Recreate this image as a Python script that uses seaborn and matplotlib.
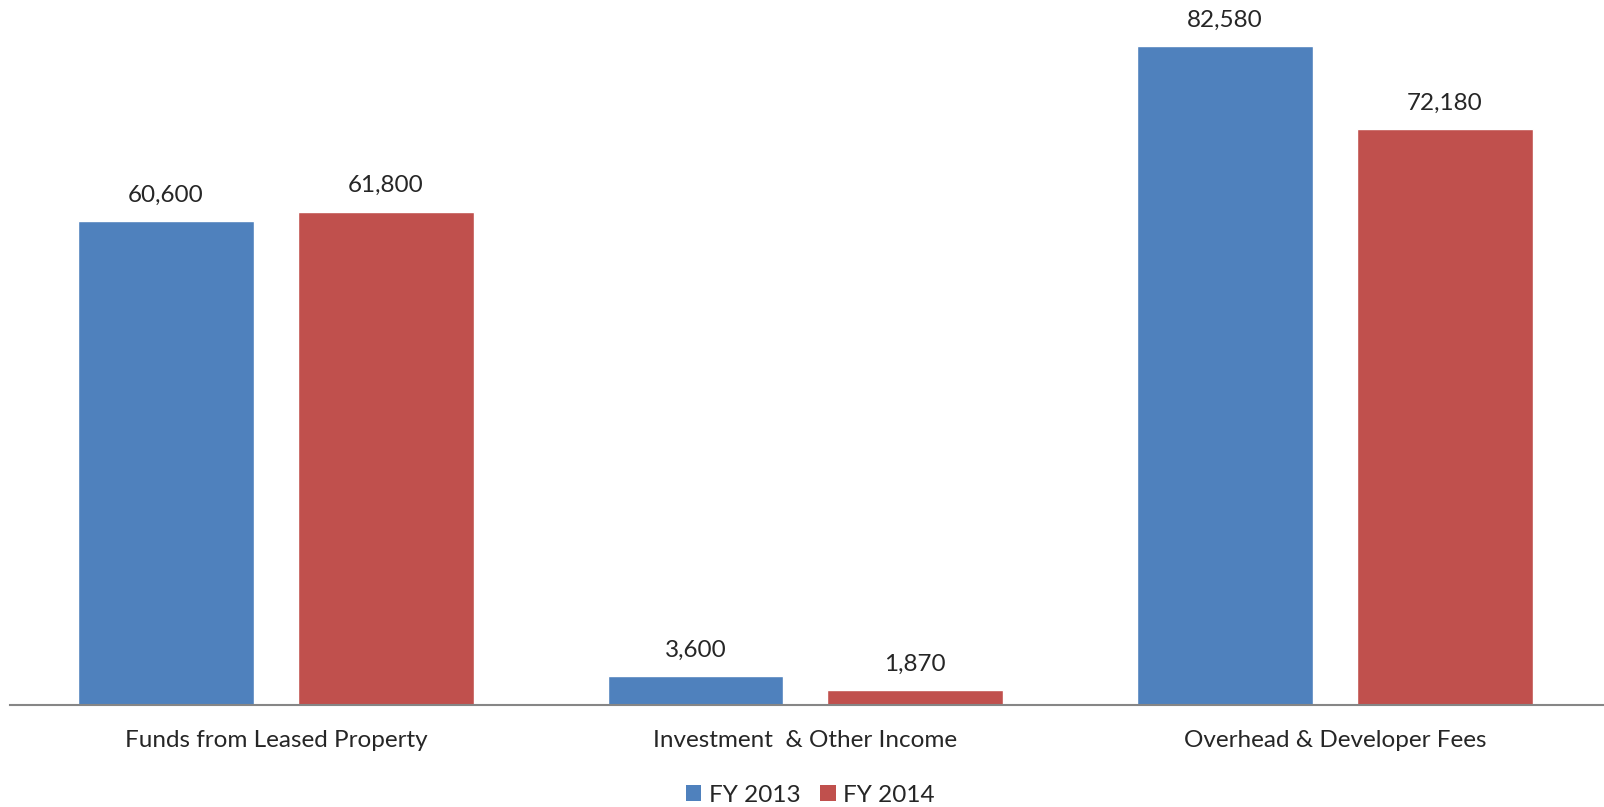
import matplotlib
matplotlib.use("Agg")
import matplotlib.pyplot as plt
import seaborn as sns
import pandas as pd
from matplotlib.patches import Patch

# data
categories = ["Funds from Leased Property", "Investment  & Other Income", "Overhead & Developer Fees"]
series = ["FY 2013", "FY 2014"]
fy2013 = [60600, 3600, 82580]
fy2014 = [61800, 1870, 72180]
colors = ["#4F81BD", "#C0504D"]

df = pd.DataFrame({
    "category": categories * 2,
    "year": [series[0]] * 3 + [series[1]] * 3,
    "value": fy2013 + fy2014,
})

sns.set_style("white")
plt.rcParams['font.family'] = ['Lato', 'DejaVu Sans']

fig = plt.figure(figsize=(16.04, 8.07), dpi=100)
ax = fig.add_axes([10/1604, 102/807, 1594/1604, 705/807])

sns.barplot(data=df, x="category", y="value", hue="year", palette=colors,
            width=0.83, gap=0.2, saturation=1, legend=False, ax=ax)

# value labels above bars
for container in ax.containers:
    labels = ["{:,.0f}".format(b.get_height()) for b in container]
    ax.bar_label(container, labels=labels, padding=11, fontsize=17.5)

ax.set_xlim(-0.502, 2.508)
ax.set_ylim(0, 88300)
ax.set_xlabel("")
ax.set_ylabel("")
ax.set_yticks([])
ax.tick_params(axis="x", length=0, pad=18, labelsize=17.5)
for s in ["top", "right", "left"]:
    ax.spines[s].set_visible(False)
ax.spines["bottom"].set_color("#868686")
ax.spines["bottom"].set_linewidth(1.5)

handles = [Patch(facecolor=c, edgecolor="none") for c in colors]
fig.legend(handles, series, loc="center", bbox_to_anchor=(0.505, 12/807),
           ncol=2, frameon=False, fontsize=17.5, handlelength=0.65,
           handleheight=0.65, handletextpad=0.3, columnspacing=0.8)

fig.savefig("out.png", dpi=100)
